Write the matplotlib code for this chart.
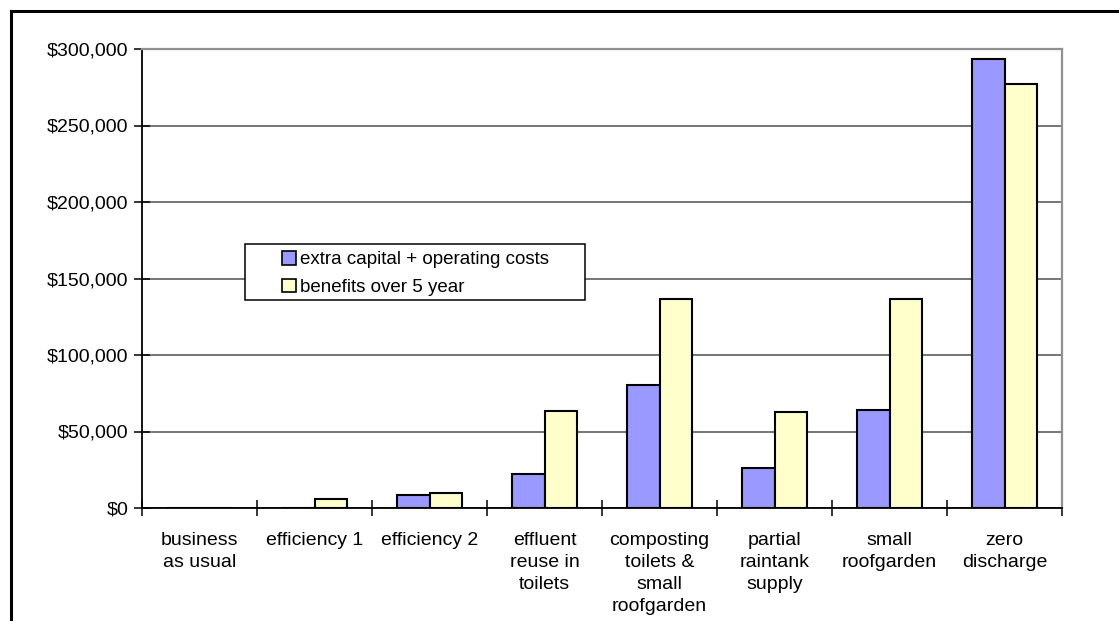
import matplotlib
matplotlib.use("Agg")
import matplotlib.pyplot as plt
import numpy as np
from matplotlib.lines import Line2D
from matplotlib.patches import Patch, Rectangle
from matplotlib.ticker import FuncFormatter, MultipleLocator

plt.rcParams['font.family'] = ['Liberation Sans', 'DejaVu Sans']

categories = [
    "business\nas usual",
    "efficiency 1",
    "efficiency 2",
    "effluent\nreuse in\ntoilets",
    "composting\ntoilets &\nsmall\nroofgarden",
    "partial\nraintank\nsupply",
    "small\nroofgarden",
    "zero\ndischarge",
]
costs = [0, 0, 8700, 22400, 80400, 26300, 64200, 293700]
benefits = [0, 5700, 9800, 63400, 136800, 62900, 136800, 277100]
series_names = ["extra capital + operating costs", "benefits over 5 year"]

W, H = 1119, 621
fig = plt.figure(figsize=(W / 100, H / 100), dpi=100)
ax = fig.add_axes([142 / W, 1 - 508 / H, (1062 - 142) / W, (508 - 49) / H])

x = np.arange(len(categories))
bw = 1 / 3.5
blue, yellow = "#9999FF", "#FFFFCC"
ax.bar(x - bw / 2, costs, bw, color=blue, edgecolor="black", linewidth=1.5, zorder=3)
ax.bar(x + bw / 2, benefits, bw, color=yellow, edgecolor="black", linewidth=1.5, zorder=3)

ax.set_xlim(-0.5, len(categories) - 0.5)
ax.set_ylim(0, 300000)
ax.yaxis.set_major_locator(MultipleLocator(50000))
ax.yaxis.set_major_formatter(FuncFormatter(lambda v, p: f"${v:,.0f}"))
ax.yaxis.grid(True, color="#505050", linewidth=1.1, zorder=0)

ax.set_xticks(x)
ax.set_xticklabels(categories, fontsize=14, linespacing=1.4)
ax.set_xticks(np.arange(len(categories) + 1) - 0.5, minor=True)
ax.tick_params(axis="x", which="major", length=0, pad=17)
ax.tick_params(axis="x", which="minor", direction="inout", length=12, width=1.1)
ax.tick_params(axis="y", direction="inout", length=12, width=1.1, labelsize=14, pad=4)

for s in ("left", "bottom"):
    ax.spines[s].set_color("black")
    ax.spines[s].set_linewidth(1.3)
for s in ("top", "right"):
    ax.spines[s].set_color("#909090")
    ax.spines[s].set_linewidth(1.6)

# legend box with wide side margins
box = Rectangle((245 / W, 1 - 300 / H), (585 - 245) / W, (300 - 244) / H,
                transform=fig.transFigure, facecolor="white", edgecolor="black",
                linewidth=1.1, zorder=4)
fig.add_artist(box)

handles = [Patch(facecolor=blue, edgecolor="black", linewidth=1.2),
           Patch(facecolor=yellow, edgecolor="black", linewidth=1.2)]
leg = fig.legend(handles, series_names, loc="upper left",
                 bbox_to_anchor=(282 / W, 1 - 251 / H), bbox_transform=fig.transFigure,
                 borderaxespad=0, borderpad=0, fontsize=13.5, frameon=False,
                 handlelength=0.75, handleheight=0.75, handletextpad=0.2,
                 labelspacing=0.55)
leg.set_zorder(5)

# frame around the chart area
fig.add_artist(Line2D([11 / W, 1], [1 - 11 / H, 1 - 11 / H], transform=fig.transFigure,
                      color="black", linewidth=2.2))
fig.add_artist(Line2D([11 / W, 11 / W], [0, 1 - 11 / H], transform=fig.transFigure,
                      color="black", linewidth=2.2))

fig.savefig("out.png", dpi=100, facecolor="white")
